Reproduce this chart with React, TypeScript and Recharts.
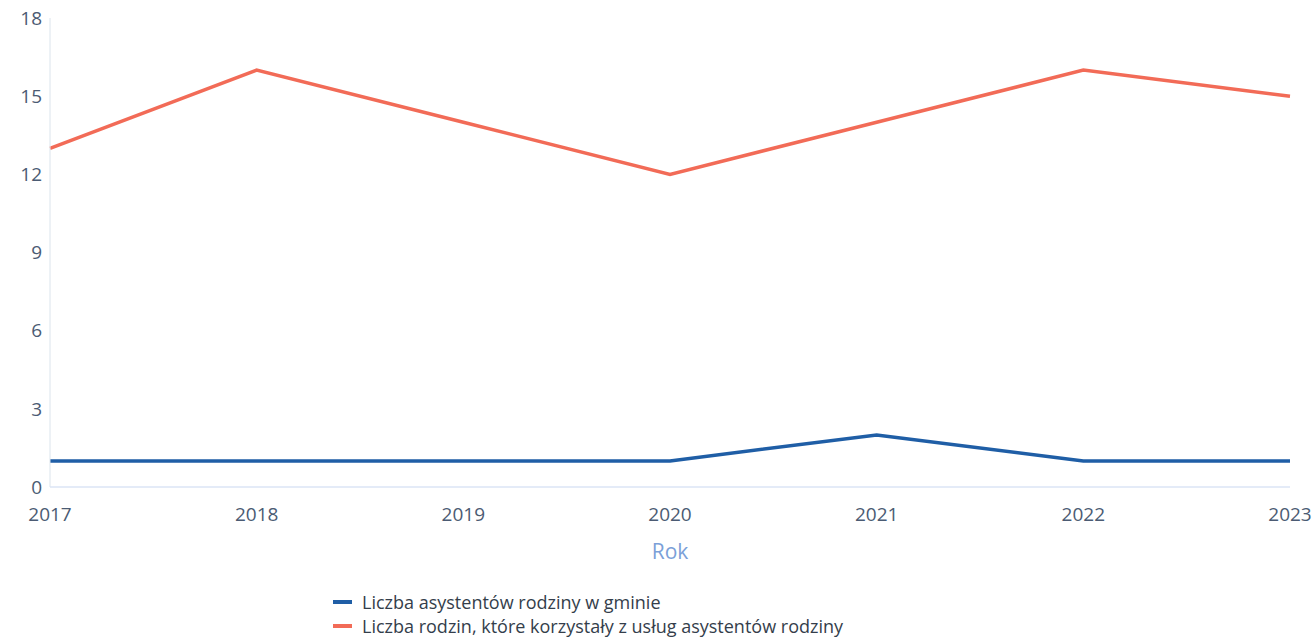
import { CartesianGrid, Legend, Line, LineChart, XAxis, YAxis } from "recharts";

const years = ["2017", "2018", "2019", "2020", "2021", "2022", "2023"];
const assistants = [1, 1, 1, 1, 2, 1, 1];
const families = [13, 16, 14, 12, 14, 16, 15];
const yTicks = [0, 3, 6, 9, 12, 15, 18];

const seriesNames = {
  assistants: "Liczba asystentów rodziny w gminie",
  families: "Liczba rodzin, które korzystały z usług asystentów rodziny",
};

const BLUE = "#1f5ea6";
const RED = "#f26b57";

const data = years.map((year, i) => ({
  year,
  assistants: assistants[i],
  families: families[i],
}));

function LegendBox({ payload }: { payload?: Array<{ value: string; color: string }> }) {
  return (
    <div style={{ fontFamily: "Open Sans", fontSize: 18, lineHeight: "24px", color: "#343e4b" }}>
      {(payload || []).map((p) => (
        <div key={p.value} style={{ display: "flex", alignItems: "center", height: 24 }}>
          <span style={{ width: 19, height: 4, background: p.color, marginRight: 10, display: "inline-block" }} />
          <span>{p.value}</span>
        </div>
      ))}
    </div>
  );
}

export default function App() {
  const tick = { fontFamily: "Open Sans", fontSize: 19, fill: "#4b5b73" };
  return (
    <div style={{ position: "absolute", left: 0, top: 0, width: 1316, height: 638, background: "#fff" }}>
      <LineChart width={1316} height={638} data={data} margin={{ top: 18, right: 26, bottom: 23, left: 0 }}>
        <CartesianGrid stroke="none" />
        <XAxis
          dataKey="year"
          height={80}
          tick={tick}
          tickLine={false}
          tickMargin={15}
          stroke="#c9d7f0"
          interval={0}
          label={{ value: "Rok", position: "insideBottom", offset: 8, fill: "#7b9fd8", fontFamily: "Open Sans", fontSize: 21 }}
        />
        <YAxis
          width={50}
          domain={[0, 18]}
          ticks={yTicks}
          tick={tick}
          tickLine={false}
          stroke="#dbe4ec"
        />
        <Legend
          content={<LegendBox />}
          wrapperStyle={{ left: 333, top: 590, width: 800 }}
        />
        <Line
          name={seriesNames.assistants}
          dataKey="assistants"
          type="linear"
          stroke={BLUE}
          strokeWidth={3.5}
          dot={false}
          isAnimationActive={false}
        />
        <Line
          name={seriesNames.families}
          dataKey="families"
          type="linear"
          stroke={RED}
          strokeWidth={3.5}
          dot={false}
          isAnimationActive={false}
        />
      </LineChart>
    </div>
  );
}
